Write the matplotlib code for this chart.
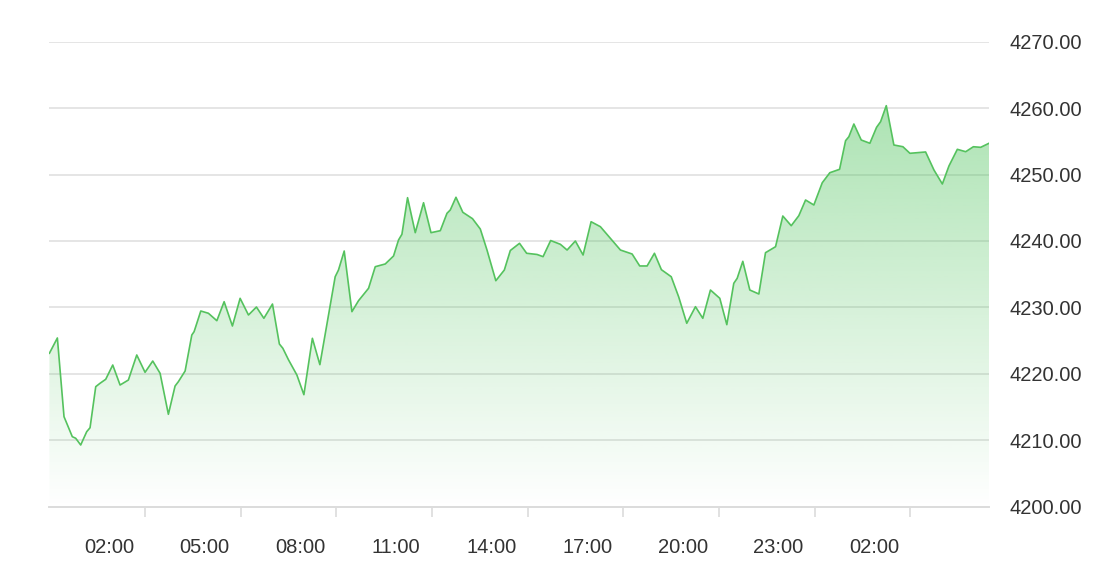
import numpy as np
import matplotlib
matplotlib.use("Agg")
import matplotlib.pyplot as plt
from matplotlib.transforms import ScaledTranslation
from matplotlib.patches import Polygon

# ---- data (minutes after 23:00 of the first day, price) ----
minutes = [0, 15, 27.5, 32.6, 43.1, 49.5, 58.9, 70.2, 76.5, 87.2, 95.3, 106, 119.2, 133,
           148.6, 164.4, 180, 194.5, 208.3, 223.9, 236.5, 242.7, 255.4, 268, 272.3, 284.9,
           299.2, 315.1, 328.8, 344.4, 358.9, 374.6, 389.6, 403.6, 419.8, 432.8, 439.3,
           449.9, 465.7, 478.9, 494.9, 509, 522.8, 537.8, 544, 554.8, 569.3, 581.7, 600.6,
           613.2, 632, 647.6, 657, 663.4, 674, 688.5, 704.1, 718.1, 735.6, 748.2, 754.4,
           765.1, 778, 796.2, 810.9, 823.5, 840.1, 856.1, 867.4, 884.7, 898.1, 917.7, 929,
           943.3, 961.6, 974.2, 989.8, 1004.3, 1019.4, 1036.9, 1055.7, 1074.6, 1096.6,
           1110.9, 1124.8, 1138.6, 1151.7, 1170.2, 1184.3, 1199.4, 1215.8, 1229.6, 1244,
           1261.6, 1274.8, 1287.9, 1294.3, 1304.9, 1318.1, 1335.1, 1347.6, 1366.5, 1380.2,
           1396, 1410.3, 1423, 1438.6, 1454.4, 1468.7, 1487, 1498.3, 1504.5, 1513.9, 1527.8,
           1544, 1556.6, 1564.2, 1574.9, 1589.2, 1606.2, 1619.4, 1648.9, 1664.6, 1680.4,
           1692.8, 1708.6, 1724.3, 1738.8, 1752.5, 1768.2]
prices = [4223.1, 4225.4, 4213.55, 4212.56, 4210.54, 4210.3, 4209.29, 4211.29, 4211.89,
          4218.07, 4218.58, 4219.18, 4221.33, 4218.32, 4219.07, 4222.84, 4220.23, 4221.93,
          4220.08, 4213.91, 4218.17, 4218.82, 4220.43, 4225.85, 4226.35, 4229.46, 4229.12,
          4228.0, 4230.86, 4227.2, 4231.37, 4228.86, 4230.06, 4228.36, 4230.51, 4224.49,
          4223.85, 4222.12, 4219.83, 4216.86, 4225.35, 4221.38, 4227.73, 4234.62, 4235.63,
          4238.49, 4229.36, 4231.01, 4232.88, 4236.13, 4236.54, 4237.74, 4240.15, 4241.01,
          4246.52, 4241.25, 4245.76, 4241.25, 4241.55, 4244.17, 4244.67, 4246.58, 4244.32,
          4243.36, 4241.8, 4238.64, 4234.02, 4235.63, 4238.57, 4239.65, 4238.15, 4237.97,
          4237.64, 4240.07, 4239.5, 4238.64, 4240.0, 4237.89, 4242.9, 4242.15, 4240.4,
          4238.64, 4238.04, 4236.24, 4236.24, 4238.15, 4235.68, 4234.62, 4231.57, 4227.61,
          4230.11, 4228.36, 4232.62, 4231.37, 4227.4, 4233.63, 4234.38, 4236.94, 4232.62,
          4232.02, 4238.24, 4239.14, 4243.76, 4242.3, 4243.81, 4246.17, 4245.42, 4248.77,
          4250.28, 4250.79, 4255.1, 4255.7, 4257.61, 4255.2, 4254.71, 4257.11, 4257.96,
          4260.37, 4254.45, 4254.19, 4253.2, 4253.4, 4250.69, 4248.58, 4251.29, 4253.8,
          4253.44, 4254.19, 4254.1, 4254.71]

tick_minutes = [180, 360, 540, 720, 900, 1080, 1260, 1440, 1620]
tick_labels = ["02:00", "05:00", "08:00", "11:00", "14:00", "17:00", "20:00", "23:00", "02:00"]
y_ticks = [4200, 4210, 4220, 4230, 4240, 4250, 4260, 4270]

x = np.array(minutes)
y = np.array(prices)

W, H = 1118, 586
fig = plt.figure(figsize=(W / 100, H / 100), dpi=100)
ax = fig.add_axes([49.4 / W, 1 - 506.7 / H, (989 - 49.4) / W, (506.7 - 41.7) / H])

ymin, ymax = 4200, 4270
ax.set_xlim(0, 1768.2)
ax.set_ylim(ymin, ymax)

# grid
for v in y_ticks[1:]:
    ax.axhline(v, color="#e3e3e3", lw=1.3, zorder=1)

# gradient fill
line_col = "#55c25e"
top_val = y.max()
n = 256
alpha = np.linspace(0.0, 0.46, n).reshape(n, 1)
rgba = np.zeros((n, 1, 4))
rgba[..., 0] = 76 / 255
rgba[..., 1] = 195 / 255
rgba[..., 2] = 90 / 255
rgba[..., 3] = alpha
im = ax.imshow(rgba, extent=[x.min(), x.max(), ymin, top_val], origin="lower",
               aspect="auto", zorder=2, interpolation="bilinear")
verts = np.vstack([[x[0], ymin], np.column_stack([x, y]), [x[-1], ymin]])
poly = Polygon(verts, closed=True, facecolor="none", edgecolor="none", transform=ax.transData)
ax.add_patch(poly)
im.set_clip_path(poly)

ax.plot(x, y, color=line_col, lw=1.2, zorder=3, solid_joinstyle="round")

# axes styling
for s in ["top", "left", "right"]:
    ax.spines[s].set_visible(False)
ax.spines["bottom"].set_color("#dcdcdc")
ax.spines["bottom"].set_linewidth(1.4)
ax.spines["bottom"].set_zorder(4)

ax.set_xticks(tick_minutes)
ax.set_xticklabels(tick_labels)
ax.tick_params(axis="x", direction="out", length=7, width=1.2, color="#dcdcdc",
               pad=15.5, labelsize=14.5, labelcolor="#333333")
offset = ScaledTranslation(-36 / 100, 0, fig.dpi_scale_trans)
for lab in ax.get_xticklabels():
    lab.set_transform(lab.get_transform() + offset)
    lab.set_family("Liberation Sans")

ax.yaxis.tick_right()
ax.set_yticks(y_ticks)
ax.set_yticklabels([f"{v:.2f}" for v in y_ticks])
ax.tick_params(axis="y", length=0, pad=14.5, labelsize=14.5, labelcolor="#333333")
for lab in ax.get_yticklabels():
    lab.set_family("Liberation Sans")

fig.savefig("out.png", dpi=100, facecolor="white")
